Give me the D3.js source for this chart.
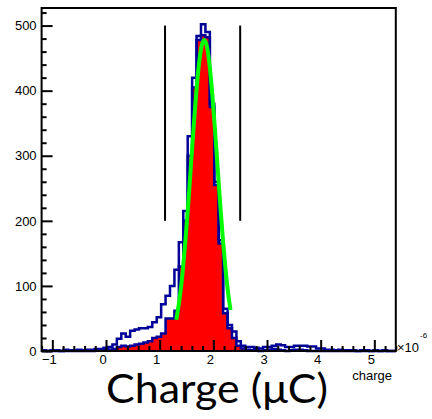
<!DOCTYPE html>
<html>
<head>
<meta charset="utf-8" />
<title>Charge</title>
<script src="https://d3js.org/d3.v7.min.js"></script>
<style>
    body { margin: 0; background: #fff; }
    .tick text { font-family: "Liberation Sans", Arial, sans-serif; }
</style>
</head>
<body>
<svg id="chart"></svg>
<script>
    // histogram definition (units of 1e-6 C)
    var binLow = -1.2
    var binWidth = 0.0825

    // all events
    var totalCounts = [1, 0, 1, 1, 0, 2, 1, 1, 2, 1, 2, 2,
        3, 3, 5, 6, 10, 19, 27, 22, 31, 33, 35, 35, 37, 44, 52, 72, 85, 100,
        125, 167, 215, 330, 420, 484, 502, 490, 380, 260, 170, 65, 40, 30, 15, 8,
        6, 6, 5, 4, 6, 6, 8, 10, 9, 6, 6, 8, 8, 8, 7, 7, 4, 4, 2, 2,
        1, 2, 1, 1, 1, 0, 1, 1, 0, 1, 0, 1, 0, 0]

    // selected events (filled)
    var selCounts = [0, 0, 0, 0, 0, 0, 0, 0, 0, 0, 0, 0,
        1, 1, 2, 2, 3, 6, 8, 7, 8, 10, 11, 13, 15, 20, 22, 27, 50, 50,
        62, 130, 200, 300, 405, 478, 485, 482, 375, 255, 165, 58, 35, 20, 8, 4,
        2, 1, 1, 0, 1, 2, 3, 2, 1, 0, 1, 2, 2, 1, 0, 0, 0, 0, 0, 0,
        0, 0, 0, 0, 0, 0, 0, 0, 0, 0, 0, 0, 0, 0]

    // gaussian fit
    var fitX = [1.31, 1.38, 1.43, 1.48, 1.53, 1.58, 1.63, 1.68, 1.73, 1.78, 1.83,
        1.88, 1.93, 1.98, 2.03, 2.08, 2.13, 2.18, 2.23, 2.28, 2.32]
    var fitY = [48, 86, 123, 170, 223, 282, 341, 395, 439, 468, 478,
        468, 439, 395, 341, 282, 223, 170, 123, 86, 63]

    // cut lines
    var cutX = [1.10, 2.50]
    var cutRange = [200, 500]

    var xTicks = [-1, 0, 1, 2, 3, 4, 5]
    var yTicks = [0, 100, 200, 300, 400, 500]

    var W = 432, H = 419
    var padL = 41.6, padR = 395.8, padT = 8, padB = 351

    var svg = d3.select('#chart').attr('width', W).attr('height', H)

    var x = d3.scaleLinear().domain([-1.2, 5.4]).range([padL, padR])
    var y = d3.scaleLinear().domain([0, 527]).range([padB, padT])

    function stepPoints(counts) {
        var pts = counts.map(function (c, i) { return [binLow + i * binWidth, c] })
        pts.push([binLow + counts.length * binWidth, counts[counts.length - 1]])
        return pts
    }

    var area = d3.area()
        .x(function (d) { return x(d[0]) })
        .y0(y(0))
        .y1(function (d) { return y(d[1]) })
        .curve(d3.curveStepAfter)

    var line = d3.line()
        .x(function (d) { return x(d[0]) })
        .y(function (d) { return y(d[1]) })
        .curve(d3.curveStepAfter)

    var plot = svg.append('g')

    // red filled histogram
    plot.append('path')
        .attr('d', area(stepPoints(selCounts)))
        .attr('fill', '#ff0000')
    plot.append('path')
        .attr('d', line(stepPoints(selCounts)))
        .attr('fill', 'none')
        .attr('stroke', '#000099')
        .attr('stroke-width', 2.5)

    // total outline
    plot.append('path')
        .attr('d', line(stepPoints(totalCounts)))
        .attr('fill', 'none')
        .attr('stroke', '#000099')
        .attr('stroke-width', 2.5)

    // fit
    var fitLine = d3.line()
        .x(function (d) { return x(d[0]) })
        .y(function (d) { return y(d[1]) })
        .curve(d3.curveMonotoneX)
    plot.append('path')
        .attr('d', fitLine(fitX.map(function (v, i) { return [v, fitY[i]] })))
        .attr('fill', 'none')
        .attr('stroke', '#00ff00')
        .attr('stroke-width', 4)

    // cut lines
    cutX.forEach(function (c) {
        svg.append('line')
            .attr('x1', x(c)).attr('x2', x(c))
            .attr('y1', y(cutRange[0])).attr('y2', y(cutRange[1]))
            .attr('stroke', '#000').attr('stroke-width', 2)
    })

    // axes
    var yMinor = d3.range(0, 527, 20).filter(function (v) { return v % 100 != 0 })
    var xMinor = d3.range(-12, 55, 2).map(function (v) { return v / 10 }).filter(function (v) { return v % 1 != 0 })

    svg.append('g')
        .attr('transform', `translate(${padL},0)`)
        .call(d3.axisLeft(y).tickValues(yMinor).tickSize(-5).tickSizeOuter(0).tickFormat(''))
    var yAx = svg.append('g')
        .attr('transform', `translate(${padL},0)`)
        .call(d3.axisLeft(y).tickValues(yTicks).tickSize(-11).tickSizeOuter(0).tickPadding(5))

    svg.append('g')
        .attr('transform', `translate(0,${padB})`)
        .call(d3.axisBottom(x).tickValues(xMinor).tickSize(-5).tickSizeOuter(0).tickFormat(''))
    var xAx = svg.append('g')
        .attr('transform', `translate(0,${padB})`)
        .call(d3.axisBottom(x).tickValues(xTicks).tickSize(-11).tickSizeOuter(0).tickPadding(5)
            .tickFormat(function (d) { return d < 0 ? '\u2212' + Math.abs(d) : d }))

    svg.selectAll('.domain').remove()
    svg.selectAll('.tick line').attr('stroke', '#000').attr('stroke-width', 2)
    yAx.selectAll('text').attr('font-size', 13).attr('fill', '#000')
    xAx.selectAll('text').attr('font-size', 13).attr('fill', '#000').attr('dx', -3.5).attr('y', 4)

    // frame
    svg.append('rect')
        .attr('x', padL).attr('y', padT)
        .attr('width', padR - padL).attr('height', padB - padT)
        .attr('fill', 'none').attr('stroke', '#000').attr('stroke-width', 2)

    // exponent
    svg.append('text')
        .attr('x', 397).attr('y', 352)
        .attr('font-family', 'Liberation Sans, Arial, sans-serif')
        .attr('font-size', 13)
        .text('\u00d710')
    svg.append('text')
        .attr('x', 420).attr('y', 338)
        .attr('font-family', 'Liberation Sans, Arial, sans-serif')
        .attr('font-size', 8)
        .text('-6')

    // axis title
    svg.append('text')
        .attr('x', 392).attr('y', 380)
        .attr('text-anchor', 'end')
        .attr('font-family', 'Liberation Sans, Arial, sans-serif')
        .attr('font-size', 13)
        .text('charge')

    // big label
    svg.append('text')
        .attr('x', 106).attr('y', 403)
        .attr('font-family', 'Lato, "Open Sans", sans-serif')
        .attr('font-size', 41)
        .attr('textLength', 222)
        .attr('lengthAdjust', 'spacingAndGlyphs')
        .text('Charge (\u03bcC)')
</script>
</body>
</html>
